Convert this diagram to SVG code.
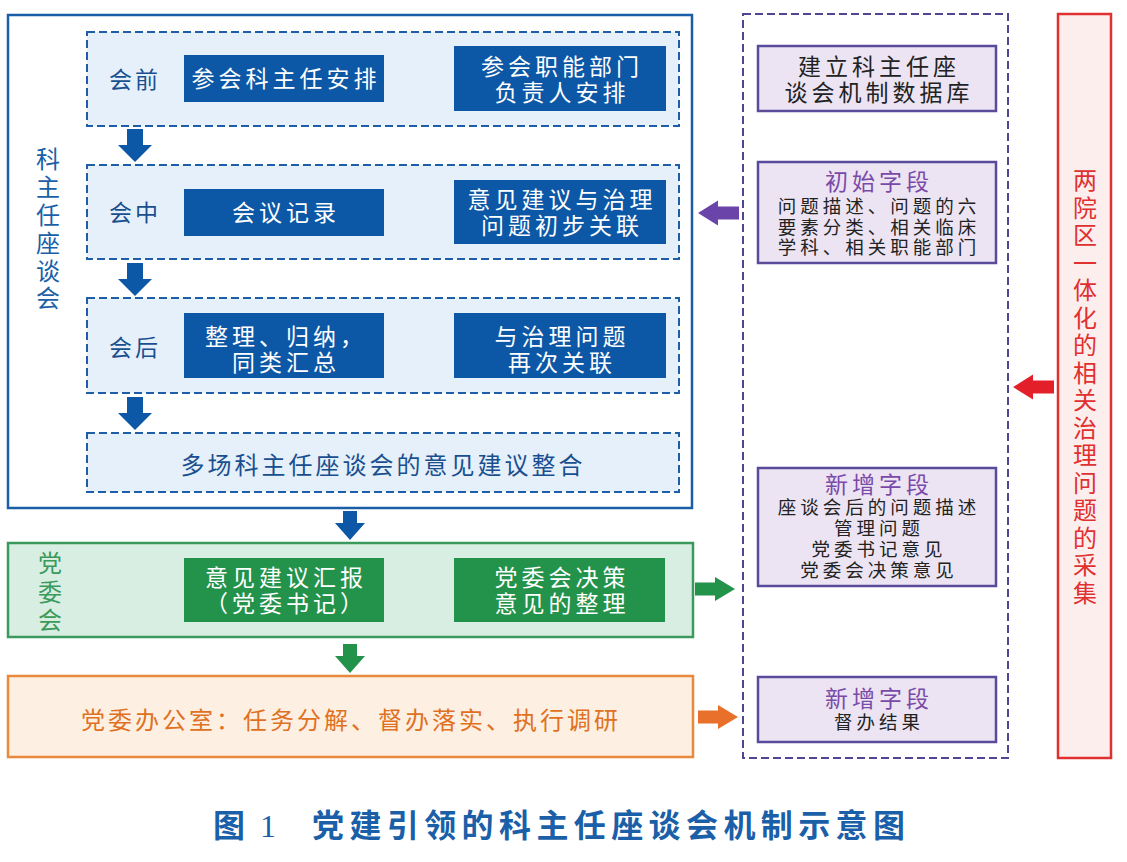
<svg xmlns="http://www.w3.org/2000/svg" xmlns:xlink="http://www.w3.org/1999/xlink" width="1127" height="862" viewBox="0 0 1127 862">
<style>
text{font-family:"Liberation Sans","Noto Sans CJK SC",sans-serif;}
.outer{fill:#ffffff;stroke:#1a5ea8;stroke-width:2.5;}
.dash{fill:#e5f0fa;stroke:#1d5ea6;stroke-width:2;stroke-dasharray:8 4;}
.dblue{fill:#0c58a6;}
.wt{fill:#ffffff;font-size:23px;letter-spacing:4px;text-anchor:middle;}
.lbl{fill:#1a4f8f;font-size:23px;letter-spacing:3px;text-anchor:middle;}
.vblue{fill:#1a5fa8;font-size:24px;text-anchor:middle;}
.green{fill:#d9eee2;stroke:#3a9a5e;stroke-width:2.5;}
.dgreen{fill:#23924b;}
.vgreen{fill:#3a9a5a;font-size:24px;text-anchor:middle;}
.orange{fill:#fdf0e2;stroke:#e8893e;stroke-width:2.5;}
.otext{fill:#e07122;font-size:24px;letter-spacing:3px;text-anchor:middle;}
.pdash{fill:#ffffff;stroke:#4f4593;stroke-width:2;stroke-dasharray:8 4;}
.pbox{fill:#ece4f2;stroke:#5a4a9a;stroke-width:2.5;}
.ptitle{fill:#7a4aa8;font-size:23px;letter-spacing:4px;text-anchor:middle;}
.pbig{fill:#222222;font-size:23px;letter-spacing:4px;text-anchor:middle;}
.pbody{fill:#222222;font-size:18.5px;letter-spacing:4px;text-anchor:middle;}
.red{fill:#fdeeee;stroke:#e03030;stroke-width:2.5;}
.vred{fill:#e03030;font-size:24px;text-anchor:middle;}
.ab{fill:#0c58a6;}
.ag{fill:#23924b;}
.ao{fill:#e8702a;}
.ap{fill:#6a44a8;}
.ar{fill:#e3202a;}
.cap{fill:#1a5fa8;font-size:32px;font-weight:bold;}
</style>
<defs>
<path id="down" d="M -8 0 H 8 V 16 H 17 L 0 33 L -17 16 H -8 Z"/>
<path id="down2" d="M -7 0 H 7 V 12 H 15 L 0 29 L -15 12 H -7 Z"/>
<path id="right" d="M 0 -6.5 H 20 V -12 L 40 0 L 20 12 V 6.5 H 0 Z"/>
<path id="left" d="M 0 0 L 20 -12.5 V -6.5 H 41 V 6.5 H 20 V 12.5 Z"/>
</defs>
<rect width="1127" height="862" fill="#ffffff"/>

<g id="meeting">
<rect class="outer" x="8" y="15" width="684" height="493"/>
<text class="vblue"><tspan x="48" y="168">科</tspan><tspan x="48" y="196">主</tspan><tspan x="48" y="224">任</tspan><tspan x="48" y="252">座</tspan><tspan x="48" y="280">谈</tspan><tspan x="48" y="307">会</tspan></text>
</g>

<g id="before">
<rect class="dash" x="87" y="32" width="592" height="94"/>
<text class="lbl" x="135" y="88">会前</text>
<rect class="dblue" x="184" y="55" width="200" height="47"/>
<text class="wt" x="286" y="87">参会科主任安排</text>
<rect class="dblue" x="454" y="46" width="212" height="65"/>
<text class="wt" x="562" y="75">参会职能部门</text>
<text class="wt" x="562" y="101">负责人安排</text>
</g>

<g id="during">
<rect class="dash" x="87" y="165" width="592" height="94"/>
<text class="lbl" x="135" y="221">会中</text>
<rect class="dblue" x="184" y="189" width="200" height="47"/>
<text class="wt" x="286" y="221">会议记录</text>
<rect class="dblue" x="454" y="180" width="212" height="64"/>
<text class="wt" x="562" y="208">意见建议与治理</text>
<text class="wt" x="562" y="234">问题初步关联</text>
</g>

<g id="after">
<rect class="dash" x="87" y="298" width="592" height="95"/>
<text class="lbl" x="135" y="356">会后</text>
<rect class="dblue" x="184" y="313" width="200" height="65"/>
<text class="wt" x="286" y="345">整理、归纳，</text>
<text class="wt" x="286" y="371">同类汇总</text>
<rect class="dblue" x="454" y="313" width="212" height="65"/>
<text class="wt" x="562" y="345">与治理问题</text>
<text class="wt" x="562" y="371">再次关联</text>
</g>

<g id="integrate">
<rect class="dash" x="87" y="433" width="592" height="59"/>
<text class="lbl" x="383" y="474" style="font-size:24px">多场科主任座谈会的意见建议整合</text>
</g>

<g id="party">
<rect class="green" x="8" y="543" width="685" height="94"/>
<text class="vgreen"><tspan x="50" y="572">党</tspan><tspan x="50" y="601">委</tspan><tspan x="50" y="629">会</tspan></text>
<rect class="dgreen" x="184" y="558" width="200" height="64"/>
<text class="wt" x="286" y="586">意见建议汇报</text>
<text class="wt" x="286" y="612">（党委书记）</text>
<rect class="dgreen" x="454" y="558" width="211" height="64"/>
<text class="wt" x="562" y="586">党委会决策</text>
<text class="wt" x="562" y="612">意见的整理</text>
</g>

<g id="office">
<rect class="orange" x="8" y="676" width="685" height="81"/>
<text class="otext" x="351" y="729">党委办公室：任务分解、督办落实、执行调研</text>
</g>

<g id="database">
<rect class="pdash" x="743" y="14" width="265" height="744"/>
</g>

<g id="db-build">
<rect class="pbox" x="758" y="46" width="238" height="65"/>
<text class="pbig" x="879" y="75">建立科主任座</text>
<text class="pbig" x="879" y="101">谈会机制数据库</text>
</g>

<g id="db-initial">
<rect class="pbox" x="758" y="162" width="238" height="101"/>
<text class="ptitle" x="879" y="190">初始字段</text>
<text class="pbody" x="879" y="213">问题描述、问题的六</text>
<text class="pbody" x="879" y="233.5">要素分类、相关临床</text>
<text class="pbody" x="879" y="254">学科、相关职能部门</text>
</g>

<g id="db-new1">
<rect class="pbox" x="758" y="468" width="238" height="118"/>
<text class="ptitle" x="879" y="493">新增字段</text>
<text class="pbody" x="879" y="514">座谈会后的问题描述</text>
<text class="pbody" x="879" y="535">管理问题</text>
<text class="pbody" x="879" y="556">党委书记意见</text>
<text class="pbody" x="879" y="577">党委会决策意见</text>
</g>

<g id="db-new2">
<rect class="pbox" x="758" y="677" width="238" height="65"/>
<text class="ptitle" x="879" y="707">新增字段</text>
<text class="pbody" x="879" y="729">督办结果</text>
</g>

<g id="collect">
<rect class="red" x="1058" y="14" width="53" height="744"/>
<text class="vred"><tspan x="1085" y="189">两</tspan><tspan x="1085" y="216.5">院</tspan><tspan x="1085" y="244">区</tspan><tspan x="1085" y="271.5">一</tspan><tspan x="1085" y="299">体</tspan><tspan x="1085" y="326.5">化</tspan><tspan x="1085" y="354">的</tspan><tspan x="1085" y="381.5">相</tspan><tspan x="1085" y="409">关</tspan><tspan x="1085" y="436.5">治</tspan><tspan x="1085" y="464">理</tspan><tspan x="1085" y="491.5">问</tspan><tspan x="1085" y="519">题</tspan><tspan x="1085" y="546.5">的</tspan><tspan x="1085" y="574">采</tspan><tspan x="1085" y="601.5">集</tspan></text>
</g>

<g id="connectors">
<use xlink:href="#down" class="ab" x="135" y="129"/>
<use xlink:href="#down" class="ab" x="135" y="263"/>
<use xlink:href="#down" class="ab" x="135" y="397"/>
<use xlink:href="#down2" class="ab" x="350" y="511"/>
<use xlink:href="#down2" class="ag" x="350" y="644"/>
<use xlink:href="#right" class="ag" x="695" y="589"/>
<use xlink:href="#right" class="ao" x="698" y="717"/>
<use xlink:href="#left" class="ap" x="698" y="213"/>
<use xlink:href="#left" class="ar" x="1013" y="387"/>
</g>

<g id="caption">
<text class="cap" x="213" y="837">图</text>
<text class="cap" x="260" y="837" style="font-family:'Liberation Serif',serif;font-weight:normal">1</text>
<text class="cap" x="312" y="837" style="letter-spacing:5.4px">党建引领的科主任座谈会机制示意图</text>
</g>
</svg>
